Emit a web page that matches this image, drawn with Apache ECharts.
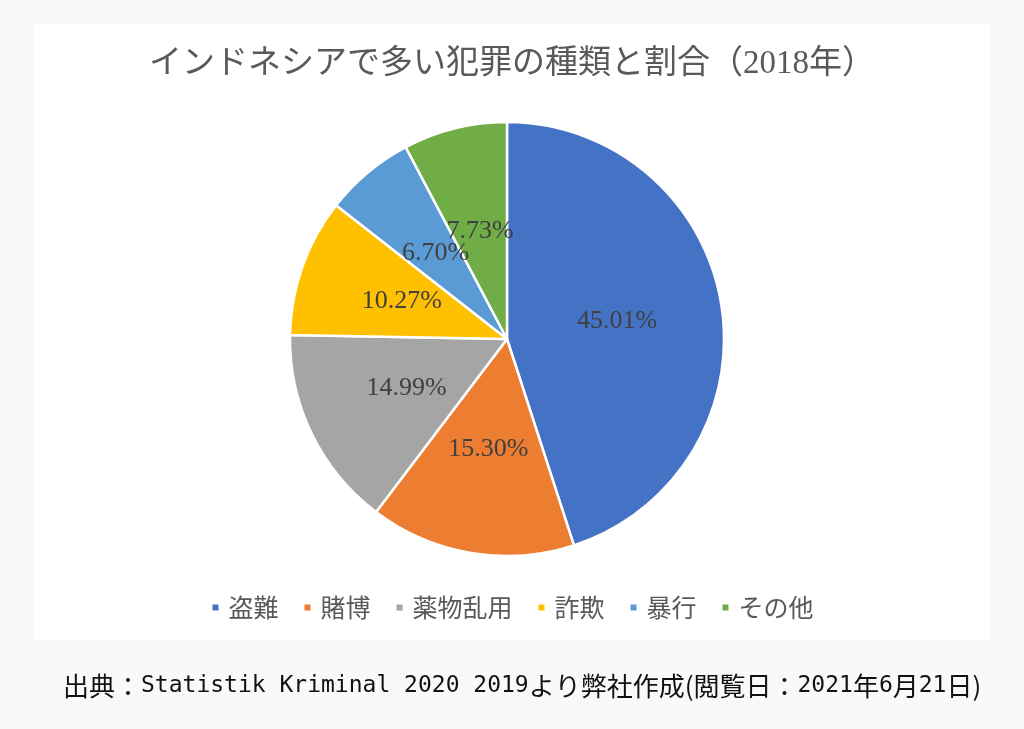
<!DOCTYPE html>
<html>
<head>
<meta charset="utf-8">
<script src="https://cdn.jsdelivr.net/npm/echarts@6/dist/echarts.min.js"></script>
<style>
  html, body { margin: 0; padding: 0; background: #f9f9f9; }
  #main { width: 1024px; height: 729px; }
</style>
</head>
<body>
<div id="main"></div>
<script>
// 犯罪の種類と割合（2018年）
const categories = ['盗難', '賭博', '薬物乱用', '詐欺', '暴行', 'その他'];
const shares = [45.01, 15.30, 14.99, 10.27, 6.70, 7.73];
const colors = ['#4472C4', '#ED7D31', '#A5A5A5', '#FFC000', '#5B9BD5', '#70AD47'];

const chart = echarts.init(document.getElementById('main'));

chart.setOption({
  backgroundColor: '#f9f9f9',
  color: colors,
  graphic: [
    {
      type: 'rect',
      z: -1,
      shape: { x: 35, y: 24, width: 955, height: 616 },
      style: { fill: '#ffffff' }
    },
    {
      type: 'text',
      left: 63,
      top: 673,
      style: {
        text: '{c|出典：}{m|Statistik Kriminal 2020 2019}{c|より弊社作成(閲覧日：}{m|2021}{c|年}{m|6}{c|月}{m|21}{c|日)}',
        fill: '#111111',
        rich: {
          c: { fontFamily: '"Noto Sans CJK JP"', fontSize: 26, fill: '#111111' },
          m: { fontFamily: '"DejaVu Sans Mono"', fontSize: 23, fill: '#111111' }
        }
      }
    }
  ],
  title: {
    text: 'インドネシアで多い犯罪の種類と割合（2018年）',
    left: 'center',
    top: 43,
    textStyle: {
      fontFamily: '"Liberation Serif", "Noto Sans CJK JP"',
      fontSize: 33,
      fontWeight: 'normal',
      color: '#595959'
    }
  },
  legend: {
    bottom: 104,
    left: 'center',
    icon: 'rect',
    itemWidth: 8,
    itemHeight: 8,
    itemGap: 24,
    textStyle: {
      fontFamily: '"Noto Sans CJK JP"',
      fontSize: 25,
      color: '#595959',
      padding: [0, 0, 0, 4]
    },
    data: categories
  },
  series: [
    {
      type: 'pie',
      center: [507, 339],
      radius: 217,
      startAngle: 90,
      clockwise: true,
      avoidLabelOverlap: false,
      itemStyle: { borderColor: '#ffffff', borderWidth: 2.5 },
      label: {
        show: true,
        position: 'inside',
        fontFamily: '"Liberation Serif", "DejaVu Serif"',
        fontSize: 26,
        color: '#404040',
        formatter: p => p.value.toFixed(2) + '%'
      },
      labelLayout: { hideOverlap: false },
      labelLine: { show: false },
      emphasis: { disabled: true },
      data: categories.map((name, i) => ({ name: name, value: shares[i] }))
    }
  ]
});
</script>
</body>
</html>
